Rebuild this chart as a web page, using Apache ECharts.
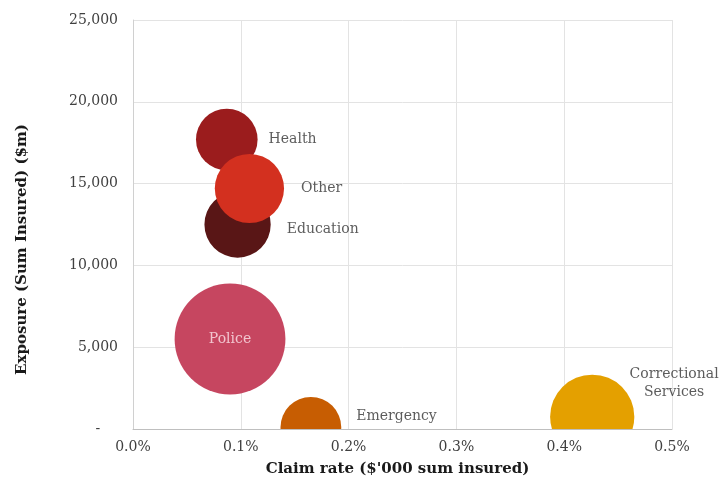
<!DOCTYPE html>
<html>
<head>
<meta charset="utf-8">
<script src="https://cdn.jsdelivr.net/npm/echarts@6/dist/echarts.min.js"></script>
<style>
html,body{margin:0;padding:0;background:#fff;}
#chart{width:722px;height:484px;}
</style>
</head>
<body>
<div id="chart"></div>
<script>
// Data
const categories = ['Health', 'Education', 'Other', 'Police', 'Emergency', 'Correctional Services'];
const claimRatePct = [0.087, 0.097, 0.108, 0.090, 0.165, 0.426];      // x, % of sum insured
const exposureM = [17700, 12500, 14700, 5500, 100, 750];              // y, $m
const bubbleValue = [3.8, 4.4, 4.8, 12.3, 3.7, 7.1];                   // bubble size measure
const xTicks = ['0.0%', '0.1%', '0.2%', '0.3%', '0.4%', '0.5%'];
const yTicks = ['-', '5,000', '10,000', '15,000', '20,000', '25,000'];

const colors = {
  'Health': '#9b1c1d',
  'Education': '#591616',
  'Other': '#d3301f',
  'Police': '#c64660',
  'Emergency': '#c75d02',
  'Correctional Services': '#e4a000'
};
const K = 31.6;
const sizeOf = v => Math.sqrt(v) * K;

const rows = categories.map((c, i) => [claimRatePct[i], exposureM[i], bubbleValue[i], c]);

const labelCfg = {
  'Health': {position: 'right', distance: 11},
  'Education': {position: 'right', distance: 16, offset: [0, 5]},
  'Other': {position: 'right', distance: 17},
  'Police': {position: 'inside', color: '#fde3ea'},
  'Emergency': {position: 'right', distance: 15, offset: [0, -11]},
  'Correctional Services': {position: [124, 9], align: 'center', verticalAlign: 'middle', formatter: 'Correctional\nServices', lineHeight: 18}
};

const font = 'DejaVu Serif';
const chart = echarts.init(document.getElementById('chart'), null, {renderer: 'canvas'});
chart.setOption({
  animation: false,
  backgroundColor: '#ffffff',
  grid: {left: 133, right: 50, top: 20, bottom: 55, containLabel: false},
  xAxis: {
    type: 'value', min: 0, max: 0.5, interval: 0.1,
    name: "Claim rate ($'000 sum insured)",
    nameLocation: 'middle', nameGap: 33,
    nameTextStyle: {fontFamily: font, fontWeight: 'bold', fontSize: 15, color: '#1a1a1a', padding: [0, 10, 0, 0]},
    axisLine: {show: true, lineStyle: {color: '#bfbfbf', width: 1}},
    axisTick: {show: false},
    splitLine: {show: true, lineStyle: {color: '#e3e3e3'}},
    axisLabel: {
      fontFamily: font, fontSize: 14, color: '#404040', margin: 11,
      formatter: v => xTicks[Math.round(v * 10)]
    }
  },
  yAxis: {
    type: 'value', min: 0, max: 25000, interval: 5000,
    name: 'Exposure (Sum Insured) ($m)',
    nameLocation: 'middle', nameGap: 103,
    nameTextStyle: {fontFamily: font, fontWeight: 'bold', fontSize: 15, color: '#1a1a1a', padding: [0, 50, 0, 0]},
    axisLine: {show: true, lineStyle: {color: '#d0d0d0', width: 1}},
    axisTick: {show: false},
    splitLine: {show: true, lineStyle: {color: '#e3e3e3'}},
    axisLabel: {
      fontFamily: font, fontSize: 14, color: '#404040', margin: 15,
      formatter: v => {
        const t = yTicks[Math.round(v / 5000)];
        return t === '-' ? '-    ' : t;
      }
    }
  },
  series: [
    {
      type: 'custom',
      clip: true,
      silent: true,
      data: rows,
      renderItem: (params, api) => {
        const p = api.coord([api.value(0), api.value(1)]);
        const r = sizeOf(api.value(2)) / 2;
        const name = categories[params.dataIndex];
        return {
          type: 'circle',
          shape: {cx: p[0], cy: p[1], r: r},
          style: {fill: colors[name]}
        };
      }
    },
    {
      type: 'scatter',
      silent: true,
      data: rows.map(r => ({
        value: r,
        label: Object.assign({show: true, fontFamily: font, fontSize: 14, color: '#333333', formatter: r[3]}, labelCfg[r[3]])
      })),
      symbolSize: d => sizeOf(d[2]),
      itemStyle: {color: 'rgba(0,0,0,0)'},
      z: 5
    }
  ]
});
</script>
</body>
</html>
